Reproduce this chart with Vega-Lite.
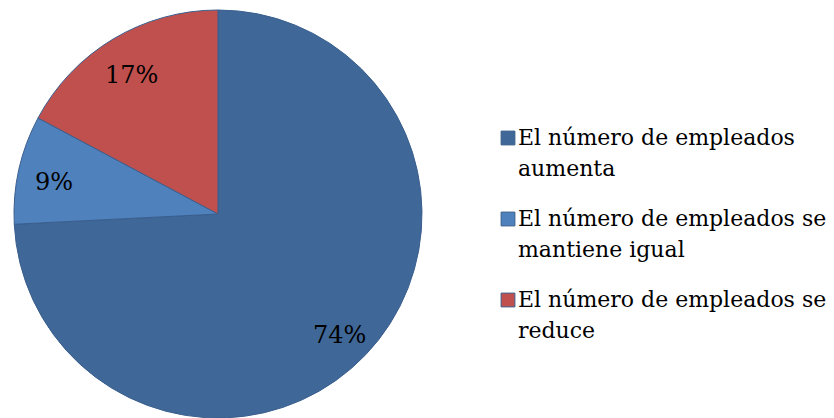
{
  "$schema": "https://vega.github.io/schema/vega-lite/v6.json",
  "width": 436,
  "height": 418,
  "padding": 0,
  "background": "white",
  "config": {"view": {"stroke": null}, "style": {"guide-label": {"lineHeight": 31}}},
  "data": {
    "values": [
      {"categoria": "El número de empleados aumenta", "valor": 74.2, "etiqueta": "74%", "orden": 1},
      {"categoria": "El número de empleados se mantiene igual", "valor": 8.6, "etiqueta": "9%", "orden": 2},
      {"categoria": "El número de empleados se reduce", "valor": 17.2, "etiqueta": "17%", "orden": 3}
    ]
  },
  "encoding": {
    "theta": {"field": "valor", "type": "quantitative", "stack": true},
    "order": {"field": "orden", "type": "quantitative"},
    "color": {
      "field": "categoria",
      "type": "nominal",
      "sort": ["El número de empleados aumenta", "El número de empleados se mantiene igual", "El número de empleados se reduce"],
      "scale": {
        "domain": ["El número de empleados aumenta", "El número de empleados se mantiene igual", "El número de empleados se reduce"],
        "range": ["#3F6797", "#4F81BD", "#C0504D"]
      },
      "legend": {
        "title": null,
        "orient": "none",
        "legendX": 497,
        "legendY": 127,
        "symbolType": "square",
        "symbolSize": 190,
        "symbolStrokeColor": "#385D8A",
        "symbolStrokeWidth": 1,
        "symbolOpacity": 1,
        "labelFont": "DejaVu Serif",
        "labelFontSize": 22,
        "labelColor": "#000000",
        "labelLimit": 400,
        "labelOffset": -1,
        "labelBaseline": "middle",
        "rowPadding": 28,
        "labelExpr": "datum.label == 'El número de empleados aumenta' ? ['El número de empleados', 'aumenta'] : datum.label == 'El número de empleados se mantiene igual' ? ['El número de empleados se', 'mantiene igual'] : ['El número de empleados se', 'reduce']"
      }
    }
  },
  "layer": [
    {
      "mark": {"type": "arc", "radius": 204, "yOffset": 5, "stroke": "#3A5F8E", "strokeWidth": 1}
    },
    {
      "mark": {"type": "text", "radius": 168, "yOffset": 11, "font": "DejaVu Serif", "fontSize": 24, "color": "#000000"},
      "encoding": {
        "text": {"field": "etiqueta", "type": "nominal"},
        "color": {"value": "#000000"}
      }
    }
  ]
}
